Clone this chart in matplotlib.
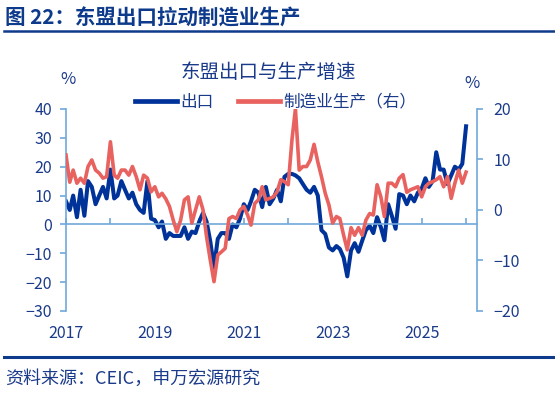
import matplotlib
matplotlib.use("Agg")
import matplotlib.pyplot as plt
import matplotlib.dates as mdates
from matplotlib.lines import Line2D
import pandas as pd

plt.rcParams["font.family"] = ["Noto Sans CJK SC", "DejaVu Sans"]

# monthly data, Jan 2017 - Jan 2026
months = pd.date_range("2017-01-01", periods=109, freq="MS")

exports = [
    8, 5, 10, 2.5, 12, 3, 15, 13, 7, 10, 13, 9,
    19, 9, 10, 15, 12, 9, 11, 7, 5, 4, 15, 2,
    1.5, -1, 1, -5, -3, -4, -4, -4, -1, -5, -2.5, -3,
    1, 4, 1, -6, -15, -5, -3, -3, -5, 0, -1, 2,
    7, 5, 8, 12, 11, 6, 13, 7, 9, 12, 8, 16.5,
    17.5, 17.5, 17, 16, 14, 12, 11, 13, 10, -2, -3.3, -8,
    -9, -7.5, -8.5, -11.5, -18, -9, -6.5, -9.5, -5.6, -2, -0.5, -3,
    2.5, -1, -5.5, 7, 3, -1.5, 10.5, 10, 7, 10, 8, 11,
    12.4, 16, 13, 15, 25, 19, 19, 14, 17, 20, 19, 21,
    34,
]

manufacturing = [
    10.9, 5.5, 7.9, 5.3, 6.3, 5.3, 8.6, 9.9, 7.9, 7.3, 6.3, 6.6,
    13.5, 6.9, 6.3, 7.9, 7.9, 6.9, 8.6, 6.6, 4.0, 6.9, 6.3, 3.6,
    4.6, 2.6, 3.3, 2.2, 0.7, -2, -4.3, -2, 2, 2.6, -2.6, 0,
    2.6, 0, -5.3, -10, -14.2, -8.9, -8.3, -7.6, -1.7, -1.3, -1.7, 0,
    0.7, -1, -3, 1.3, 2, 4.6, 2, 2.3, 2.6, 3.6, 6, 5.6,
    5, 14, 20, 7.9, 8.6, 8.6, 9.9, 13, 9.5, 6.6, 3.3, 1.0,
    -2.6, -1.3, -1.7, -5, -7.9, -3.5, -5, -3.5, -5, -2, -0.7, -1,
    5, 2.6, -1.3, 5.3, 5.3, 4.6, 6.3, 7, 3.5, 4, 4.3, 4.6,
    2.6, 4.6, 5.3, 5.6, 6, 6.6, 4.6, 6.6, 2.3, 5.3, 7.9, 5.3,
    7.5,
]

label_years = ["2017", "2019", "2021", "2023", "2025"]
left_ticks = [-30, -20, -10, 0, 10, 20, 30, 40]
right_ticks = [-20, -10, 0, 10, 20]

NAVY = "#003399"
RED = "#E8625F"
AXIS = "#6FA8DC"
TEXT = "#1A3A8A"
TITLE = "#0E3A8C"

fig = plt.figure(figsize=(5.55, 3.95), dpi=100)
ax = fig.add_axes([0.1189, 0.2127, 0.7406, 0.5114])
ax2 = ax.twinx()

ax.plot(months, exports, color=NAVY, lw=2.9, label="出口", solid_joinstyle="round")
ax2.plot(months, manufacturing, color=RED, lw=2.6, label="制造业生产（右）",
         solid_joinstyle="round")

ax.set_ylim(-30, 40)
ax2.set_ylim(-20, 20)
ax.set_yticks(left_ticks)
ax2.set_yticks(right_ticks)
ax.set_xlim(pd.Timestamp("2017-01-01"), pd.Timestamp("2026-04-01"))

# spines
for s in ["top", "right"]:
    ax.spines[s].set_visible(False)
for s in ["top", "left", "bottom"]:
    ax2.spines[s].set_visible(False)
ax.spines["left"].set_color(AXIS)
ax.spines["left"].set_linewidth(1.2)
ax2.spines["right"].set_color(AXIS)
ax2.spines["right"].set_linewidth(1.2)
ax.spines["bottom"].set_position(("data", 0))
ax.spines["bottom"].set_color(AXIS)
ax.spines["bottom"].set_linewidth(1.2)

# yearly ticks on the zero line, labels every two years at the bottom
ax.xaxis.set_major_locator(mdates.YearLocator(1))
ax.tick_params(axis="x", direction="in", length=4, width=1.2, color=AXIS,
               labelbottom=False)
sec = ax.secondary_xaxis("bottom")
sec.set_xticks(pd.to_datetime([y + "-01-01" for y in label_years]))
sec.xaxis.set_major_formatter(mdates.DateFormatter("%Y"))
sec.spines["bottom"].set_visible(False)
sec.tick_params(axis="x", length=0, pad=10, labelsize=11.5, labelcolor=TEXT)

ax.tick_params(axis="y", direction="out", length=4, width=1.2, color=AXIS,
               labelsize=11.5, labelcolor=TEXT, pad=6)
ax2.tick_params(axis="y", direction="out", length=4, width=1.2, color=AXIS,
                labelsize=11.5, labelcolor=TEXT, pad=8)

# titles and texts
fig.text(0.009, 1 - 18 / 395, "图 22：东盟出口拉动制造业生产", fontsize=14.8,
         fontweight="bold", color=TITLE, va="center", ha="left")
fig.text(0.484, 1 - 72 / 395, "东盟出口与生产增速", fontsize=14, color=TEXT,
         va="center", ha="center")
fig.text(68 / 555, 1 - 80 / 395, "%", fontsize=12, color=TEXT, va="center", ha="center")
fig.text(472 / 555, 1 - 83 / 395, "%", fontsize=12, color=TEXT, va="center", ha="center")
fig.text(0.009, 1 - 379 / 395, "资料来源：CEIC，申万宏源研究", fontsize=13,
         color=TEXT, va="center", ha="left")

fig.add_artist(Line2D([4 / 555, 1], [1 - 31 / 395] * 2, color=TITLE, lw=1.8))
fig.add_artist(Line2D([4 / 555, 1], [1 - 357 / 395] * 2, color=TITLE, lw=2.2))

h1, l1 = ax.get_legend_handles_labels()
h2, l2 = ax2.get_legend_handles_labels()
leg = fig.legend(h1 + h2, l1 + l2, loc="center", bbox_to_anchor=(0.497, 1 - 102 / 395),
                 ncol=2, frameon=False, fontsize=12, handlelength=2.5,
                 handletextpad=0.2, columnspacing=1.5)
for t in leg.get_texts():
    t.set_color(TEXT)
for line in leg.get_lines():
    line.set_linewidth(3.4)

fig.savefig("out.png", dpi=100)
